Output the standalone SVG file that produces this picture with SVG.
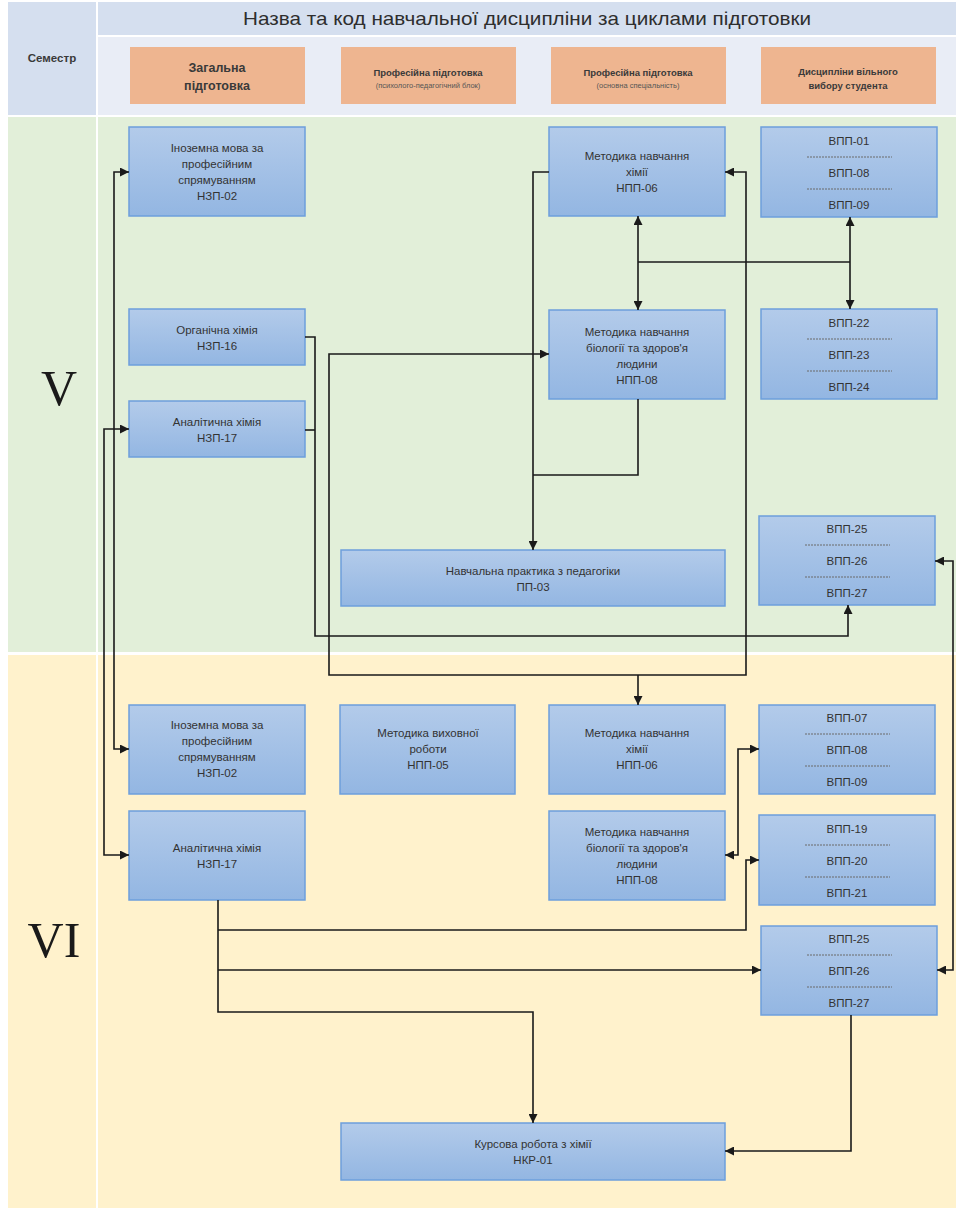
<svg xmlns="http://www.w3.org/2000/svg" width="956" height="1208" viewBox="0 0 956 1208">
<defs>
<linearGradient id="nodeGrad" x1="0" y1="0" x2="0" y2="1">
<stop offset="0" stop-color="#b3cbea"/>
<stop offset="1" stop-color="#93b6e2"/>
</linearGradient>
<marker id="arr" viewBox="0 0 10 10" refX="10" refY="5" markerWidth="9" markerHeight="9" markerUnits="userSpaceOnUse" orient="auto-start-reverse">
<path d="M0,0 L10,5 L0,10 z" fill="#1a1a1a"/>
</marker>
</defs>
<style>
.node rect{fill:url(#nodeGrad);stroke:#6d9fdc;stroke-width:1.5}
.nt{font-family:"Liberation Sans",Arial,sans-serif;font-size:11.5px;fill:#333333;text-anchor:middle}
.hdr{fill:#eeb590}
.ht{font-family:"Liberation Sans",Arial,sans-serif;font-weight:bold;fill:#3a3a3a;text-anchor:middle}
.sep{stroke:#6a6a6a;stroke-width:1;stroke-dasharray:2 1}
.con path{fill:none;stroke:#1a1a1a;stroke-width:1.6}
.sem{font-family:"Liberation Serif","Times New Roman",serif;font-size:50px;fill:#1a1a1a;text-anchor:middle}
</style>
<rect x="0" y="0" width="956" height="1208" fill="#ffffff"/>
<g id="background">
<rect x="8" y="2" width="88" height="113" fill="#d5dfef"/>
<rect x="98" y="2" width="858" height="33" fill="#d5dfef"/>
<rect x="98" y="37" width="858" height="78" fill="#e9edf6"/>
<rect x="8" y="117" width="88" height="535" fill="#e2efd9"/>
<rect x="98" y="117" width="858" height="535" fill="#e2efd9"/>
<rect x="8" y="655" width="88" height="553" fill="#fff2cc"/>
<rect x="98" y="655" width="858" height="553" fill="#fff2cc"/>
</g>
<g id="header">
<text class="ht" x="52" y="62" font-size="11.5">Семестр</text>
<text x="527" y="25" font-family="Liberation Sans,Arial,sans-serif" font-size="19" fill="#2e2e2e" text-anchor="middle" textLength="568" lengthAdjust="spacingAndGlyphs">Назва та код навчальної дисципліни за циклами підготовки</text>
<g id="h1"><rect class="hdr" x="130" y="47" width="175" height="57"/>
<text class="ht" x="217" y="72" font-size="12.5">Загальна</text>
<text class="ht" x="217" y="90" font-size="12.5">підготовка</text></g>
<g id="h2"><rect class="hdr" x="341" y="47" width="175" height="57"/>
<text class="ht" x="428" y="76" font-size="9.5">Професійна підготовка</text>
<text x="428" y="88" font-family="Liberation Sans,Arial,sans-serif" font-size="7.5" fill="#555" text-anchor="middle">(психолого-педагогічний блок)</text></g>
<g id="h3"><rect class="hdr" x="551" y="47" width="175" height="57"/>
<text class="ht" x="638" y="76" font-size="9.5">Професійна підготовка</text>
<text x="638" y="88" font-family="Liberation Sans,Arial,sans-serif" font-size="7.5" fill="#555" text-anchor="middle">(основна спеціальність)</text></g>
<g id="h4"><rect class="hdr" x="761" y="47" width="175" height="57"/>
<text class="ht" x="848" y="75" font-size="9.5">Дисципліни вільного</text>
<text class="ht" x="848" y="89" font-size="9.5">вибору студента</text></g>
</g>
<text class="sem" x="59" y="405">V</text>
<text class="sem" x="54" y="957">VI</text>

<g id="n_inozemna5" class="node"><rect x="129" y="127" width="176" height="89"/>
<text class="nt" x="217" y="152">Іноземна мова за</text>
<text class="nt" x="217" y="168">професійним</text>
<text class="nt" x="217" y="184">спрямуванням</text>
<text class="nt" x="217" y="200">НЗП-02</text></g>
<g id="n_organichna5" class="node"><rect x="129" y="309" width="176" height="56"/>
<text class="nt" x="217" y="334">Органічна хімія</text>
<text class="nt" x="217" y="350">НЗП-16</text></g>
<g id="n_analit5" class="node"><rect x="129" y="401" width="176" height="56"/>
<text class="nt" x="217" y="426">Аналітична хімія</text>
<text class="nt" x="217" y="442">НЗП-17</text></g>
<g id="n_metkhim5" class="node"><rect x="549" y="127" width="176" height="89"/>
<text class="nt" x="637" y="160">Методика навчання</text>
<text class="nt" x="637" y="176">хімії</text>
<text class="nt" x="637" y="192">НПП-06</text></g>
<g id="n_metbio5" class="node"><rect x="549" y="310" width="176" height="89"/>
<text class="nt" x="637" y="336">Методика навчання</text>
<text class="nt" x="637" y="352">біології та здоров'я</text>
<text class="nt" x="637" y="368">людини</text>
<text class="nt" x="637" y="384">НПП-08</text></g>
<g id="n_vpp01" class="node"><rect x="761" y="127" width="176" height="90"/>
<text class="nt" x="849" y="145">ВПП-01</text>
<line class="sep" x1="807" y1="157" x2="892" y2="157"/>
<text class="nt" x="849" y="177">ВПП-08</text>
<line class="sep" x1="807" y1="189" x2="892" y2="189"/>
<text class="nt" x="849" y="209">ВПП-09</text></g>
<g id="n_vpp22" class="node"><rect x="761" y="309" width="176" height="90"/>
<text class="nt" x="849" y="327">ВПП-22</text>
<line class="sep" x1="807" y1="339" x2="892" y2="339"/>
<text class="nt" x="849" y="359">ВПП-23</text>
<line class="sep" x1="807" y1="371" x2="892" y2="371"/>
<text class="nt" x="849" y="391">ВПП-24</text></g>
<g id="n_praktyka" class="node"><rect x="341" y="550" width="384" height="56"/>
<text class="nt" x="533" y="575">Навчальна практика з педагогіки</text>
<text class="nt" x="533" y="591">ПП-03</text></g>
<g id="n_vpp25a" class="node"><rect x="759" y="516" width="176" height="89"/>
<text class="nt" x="847" y="533">ВПП-25</text>
<line class="sep" x1="805" y1="545" x2="890" y2="545"/>
<text class="nt" x="847" y="565">ВПП-26</text>
<line class="sep" x1="805" y1="577" x2="890" y2="577"/>
<text class="nt" x="847" y="597">ВПП-27</text></g>

<g id="n_inozemna6" class="node"><rect x="129" y="705" width="176" height="89"/>
<text class="nt" x="217" y="729">Іноземна мова за</text>
<text class="nt" x="217" y="745">професійним</text>
<text class="nt" x="217" y="761">спрямуванням</text>
<text class="nt" x="217" y="777">НЗП-02</text></g>
<g id="n_vykhovna6" class="node"><rect x="340" y="705" width="175" height="89"/>
<text class="nt" x="428" y="737">Методика виховної</text>
<text class="nt" x="428" y="753">роботи</text>
<text class="nt" x="428" y="769">НПП-05</text></g>
<g id="n_metkhim6" class="node"><rect x="549" y="705" width="176" height="89"/>
<text class="nt" x="637" y="737">Методика навчання</text>
<text class="nt" x="637" y="753">хімії</text>
<text class="nt" x="637" y="769">НПП-06</text></g>
<g id="n_vpp07" class="node"><rect x="759" y="705" width="176" height="89"/>
<text class="nt" x="847" y="722">ВПП-07</text>
<line class="sep" x1="805" y1="734" x2="890" y2="734"/>
<text class="nt" x="847" y="754">ВПП-08</text>
<line class="sep" x1="805" y1="766" x2="890" y2="766"/>
<text class="nt" x="847" y="786">ВПП-09</text></g>
<g id="n_analit6" class="node"><rect x="129" y="811" width="176" height="89"/>
<text class="nt" x="217" y="852">Аналітична хімія</text>
<text class="nt" x="217" y="868">НЗП-17</text></g>
<g id="n_metbio6" class="node"><rect x="549" y="811" width="176" height="89"/>
<text class="nt" x="637" y="836">Методика навчання</text>
<text class="nt" x="637" y="852">біології та здоров'я</text>
<text class="nt" x="637" y="868">людини</text>
<text class="nt" x="637" y="884">НПП-08</text></g>
<g id="n_vpp19" class="node"><rect x="759" y="815" width="176" height="90"/>
<text class="nt" x="847" y="833">ВПП-19</text>
<line class="sep" x1="805" y1="845" x2="890" y2="845"/>
<text class="nt" x="847" y="865">ВПП-20</text>
<line class="sep" x1="805" y1="877" x2="890" y2="877"/>
<text class="nt" x="847" y="897">ВПП-21</text></g>
<g id="n_vpp25b" class="node"><rect x="761" y="926" width="176" height="89"/>
<text class="nt" x="849" y="943">ВПП-25</text>
<line class="sep" x1="807" y1="955" x2="892" y2="955"/>
<text class="nt" x="849" y="975">ВПП-26</text>
<line class="sep" x1="807" y1="987" x2="892" y2="987"/>
<text class="nt" x="849" y="1007">ВПП-27</text></g>
<g id="n_kursova" class="node"><rect x="341" y="1123" width="384" height="57"/>
<text class="nt" x="533" y="1148">Курсова робота з хімії</text>
<text class="nt" x="533" y="1164">НКР-01</text></g>

<g id="connectors" class="con">
<path d="M129,172 H114 V749 H129" marker-start="url(#arr)" marker-end="url(#arr)"/>
<path d="M129,429 H104 V855 H129" marker-start="url(#arr)" marker-end="url(#arr)"/>
<path d="M305,337 H315 V636 H848 V605" marker-end="url(#arr)"/>
<path d="M305,430 H315"/>
<path d="M549,172 H533 V550" marker-end="url(#arr)"/>
<path d="M638,399 V475 H533"/>
<path d="M549,354 H329 V675 H746 V172 H725" marker-start="url(#arr)" marker-end="url(#arr)"/>
<path d="M638,675 V705" marker-end="url(#arr)"/>
<path d="M638,216 V310" marker-start="url(#arr)" marker-end="url(#arr)"/>
<path d="M638,262 H850"/>
<path d="M850,217 V309" marker-start="url(#arr)" marker-end="url(#arr)"/>
<path d="M935,561 H953 V970 H937" marker-start="url(#arr)" marker-end="url(#arr)"/>
<path d="M759,749 H738 V855 H725" marker-start="url(#arr)" marker-end="url(#arr)"/>
<path d="M218,900 V1012 H533 V1123" marker-end="url(#arr)"/>
<path d="M218,930 H746 V860 H759" marker-end="url(#arr)"/>
<path d="M218,970 H761" marker-end="url(#arr)"/>
<path d="M851,1015 V1151 H725" marker-end="url(#arr)"/>
</g>
</svg>
